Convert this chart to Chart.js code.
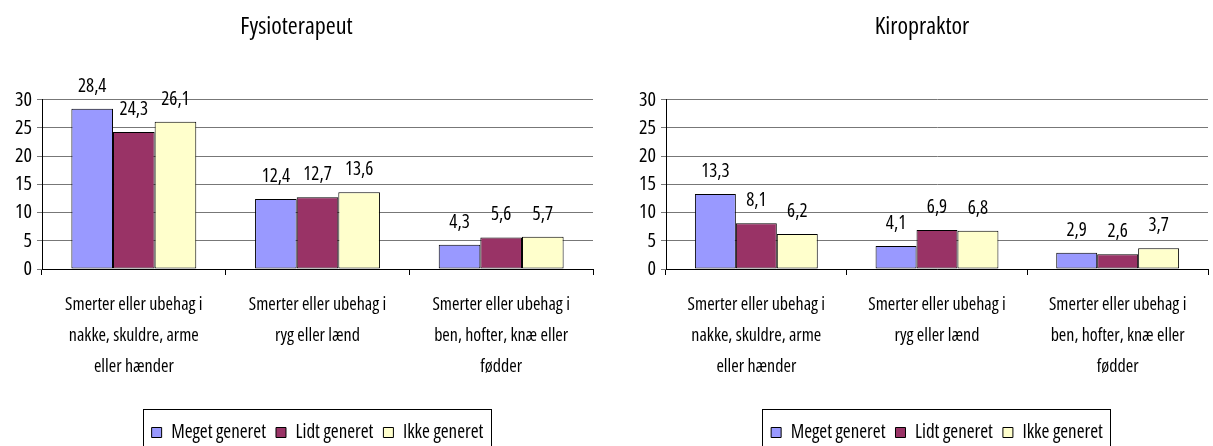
<!DOCTYPE html>
<html>
<head>
<meta charset="utf-8">
<script src="https://cdn.jsdelivr.net/npm/chart.js@4.4.1/dist/chart.umd.min.js"></script>
<style>
  html, body { margin: 0; padding: 0; background: #fff; }
  #wrap { position: relative; width: 1213px; height: 446px; overflow: hidden; }
  canvas { position: absolute; top: 0; }
</style>
</head>
<body>
<div id="wrap">
  <canvas id="fysio" width="606" height="446" style="left:0"></canvas>
  <canvas id="kiro" width="577" height="446" style="left:636px"></canvas>
</div>
<script>
// categories (multi-line x labels)
const categories = [
  ['Smerter eller ubehag i', 'nakke, skuldre, arme', 'eller hænder'],
  ['Smerter eller ubehag i', 'ryg eller lænd'],
  ['Smerter eller ubehag i', 'ben, hofter, knæ eller', 'fødder']
];
const seriesNames = ['Meget generet', 'Lidt generet', 'Ikke generet'];
const seriesColors = ['#9999ff', '#993366', '#ffffcc'];

// Fysioterapeut
const fysioMeget = [28.4, 12.4, 4.3];
const fysioLidt = [24.3, 12.7, 5.6];
const fysioIkke = [26.1, 13.6, 5.7];

// Kiropraktor
const kiroMeget = [13.3, 4.1, 2.9];
const kiroLidt = [8.1, 6.9, 2.6];
const kiroIkke = [6.2, 6.8, 3.7];

// condensed face of Open Sans; 'condensed' goes in the weight slot of the font string
const FAMILY = '"Open Sans", sans-serif';
Chart.defaults.font.family = FAMILY;
Chart.defaults.font.weight = 'condensed';
Chart.defaults.color = '#000';

// value labels above bars, with decimal comma
const valueLabels = {
  id: 'valueLabels',
  afterDatasetsDraw(chart) {
    const ctx = chart.ctx;
    ctx.save();
    ctx.font = 'condensed 19px ' + FAMILY;
    ctx.fillStyle = '#000';
    ctx.textAlign = 'center';
    ctx.textBaseline = 'alphabetic';
    chart.data.datasets.forEach((ds, i) => {
      chart.getDatasetMeta(i).data.forEach((bar, j) => {
        ctx.fillText(ds.data[j].toFixed(1).replace('.', ','), bar.x, bar.y - 17);
      });
    });
    ctx.restore();
  }
};

// frame around the legend items
const legendFrame = {
  id: 'legendFrame',
  afterDraw(chart) {
    const boxes = chart.legend.legendHitBoxes;
    if (!boxes || !boxes.length) return;
    let x0 = Infinity, x1 = -Infinity, y0 = Infinity, y1 = -Infinity;
    boxes.forEach(b => {
      x0 = Math.min(x0, b.left);
      x1 = Math.max(x1, b.left + b.width);
      y0 = Math.min(y0, b.top);
      y1 = Math.max(y1, b.top + b.height);
    });
    const cy = (y0 + y1) / 2;
    const ctx = chart.ctx;
    ctx.save();
    ctx.strokeStyle = '#000';
    ctx.lineWidth = 1;
    ctx.strokeRect(Math.round(x0 - 9) + 0.5, Math.round(cy - 24) + 0.5, Math.round(x1 - x0 + 16), 60);
    ctx.restore();
  }
};

function makeChart(id, title, meget, lidt, ikke, axisWidth, padRight) {
  const values = [meget, lidt, ikke];
  return new Chart(document.getElementById(id), {
    type: 'bar',
    data: {
      labels: categories,
      datasets: seriesNames.map((name, i) => ({
        label: name,
        data: values[i],
        backgroundColor: seriesColors[i],
        borderColor: '#000',
        borderWidth: 1,
        borderSkipped: false,
        barPercentage: 1,
        categoryPercentage: 0.68
      }))
    },
    options: {
      responsive: false,
      animation: false,
      layout: { padding: { top: 0, right: padRight, bottom: -6, left: 0 } },
      plugins: {
        title: {
          display: true,
          text: title,
          font: { size: 24, weight: 'condensed' },
          padding: { top: 13, bottom: 58 }
        },
        legend: {
          position: 'bottom',
          fullSize: false,
          labels: {
            boxWidth: 10,
            boxHeight: 10,
            padding: 10,
            font: { size: 19 },
            color: '#000'
          }
        },
        tooltip: { enabled: false }
      },
      scales: {
        x: {
          grid: { offset: true, drawOnChartArea: false, color: '#000', tickLength: 6 },
          border: { color: '#000' },
          ticks: { font: { size: 18, lineHeight: 1.72 }, padding: 14, maxRotation: 0, autoSkip: false },
          afterFit(scale) { scale.height = 144; }
        },
        y: {
          min: 0,
          max: 30,
          ticks: { stepSize: 5, font: { size: 20 }, padding: 5 },
          grid: { color: '#777', tickLength: 5 },
          border: { color: '#000' },
          afterFit(scale) { scale.width = axisWidth; }
        }
      }
    },
    plugins: [valueLabels, legendFrame]
  });
}

makeChart('fysio', 'Fysioterapeut', fysioMeget, fysioLidt, fysioIkke, 42, 13);
makeChart('kiro', 'Kiropraktor', kiroMeget, kiroLidt, kiroIkke, 30, 5);
</script>
</body>
</html>
